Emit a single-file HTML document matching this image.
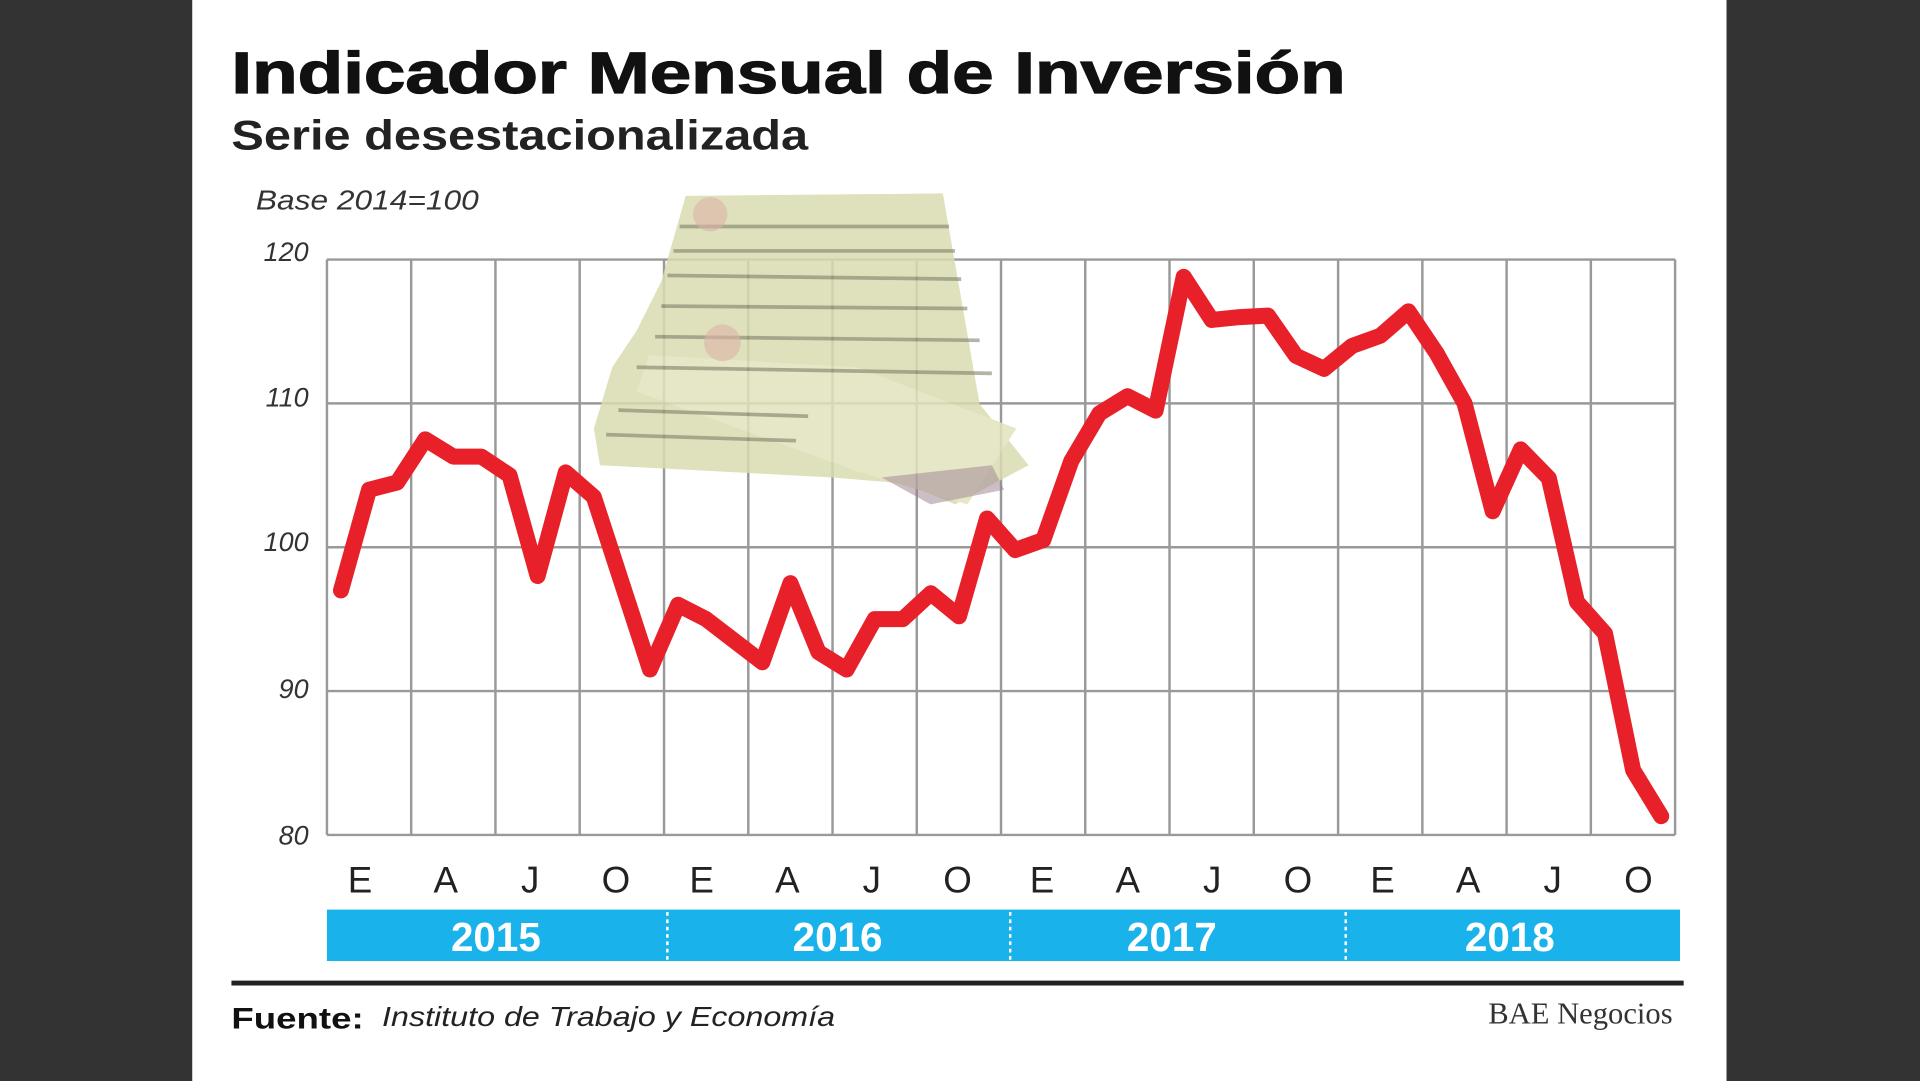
<!DOCTYPE html>
<html><head><meta charset="utf-8"><style>
html,body{margin:0;padding:0;background:#333;}
svg{display:block}
text{font-family:"Liberation Sans",sans-serif}
</style></head><body>
<svg width="1920" height="1081" viewBox="0 0 1568 883" preserveAspectRatio="none" xmlns="http://www.w3.org/2000/svg">
<rect x="0" y="0" width="1568" height="883" fill="#333333"/>
<rect x="157" y="0" width="1253" height="883" fill="#ffffff"/>
<text x="189" y="76" font-size="48" font-weight="bold" fill="#111" stroke="#111" stroke-width="1" textLength="910" lengthAdjust="spacingAndGlyphs">Indicador Mensual de Inversión</text>
<text x="189" y="122" font-size="34" font-weight="bold" fill="#222" textLength="471" lengthAdjust="spacingAndGlyphs">Serie desestacionalizada</text>
<text x="209" y="171" font-size="23" font-style="italic" fill="#333" textLength="182" lengthAdjust="spacingAndGlyphs">Base 2014=100</text>
<g font-size="22" font-style="italic" fill="#333" text-anchor="end">
<text x="252" y="213">120</text><text x="252" y="332">110</text><text x="252" y="450">100</text><text x="252" y="570">90</text><text x="252" y="690">80</text>
</g>
<g stroke="#999" stroke-width="2" fill="none">
<line x1="267" y1="212" x2="1368" y2="212"/><line x1="267" y1="329.5" x2="1368" y2="329.5"/><line x1="267" y1="447" x2="1368" y2="447"/><line x1="267" y1="564.5" x2="1368" y2="564.5"/><line x1="267" y1="682" x2="1368" y2="682"/>
<path d="M267 212V682M335.8 212V682M404.6 212V682M473.4 212V682M542.3 212V682M611.1 212V682M679.9 212V682M748.7 212V682M817.5 212V682M886.3 212V682M955.1 212V682M1023.9 212V682M1092.8 212V682M1161.6 212V682M1230.4 212V682M1299.2 212V682M1368 212V682"/>
</g>
<g opacity="0.85">
<polygon points="560,160 770,158 800,330 840,380 780,412 740,395 680,390 490,380 485,350 500,300 520,270 540,230" fill="#d9dcb0"/>
<polygon points="530,290 700,300 830,350 790,412 700,385 520,320" fill="#e2e3bd"/>
<g stroke="#6b6b50" stroke-width="3" opacity="0.6">
<line x1="555" y1="185" x2="775" y2="185"/><line x1="550" y1="205" x2="780" y2="205"/><line x1="545" y1="225" x2="785" y2="228"/><line x1="540" y1="250" x2="790" y2="252"/><line x1="535" y1="275" x2="800" y2="278"/><line x1="520" y1="300" x2="810" y2="305"/><line x1="505" y1="335" x2="660" y2="340"/><line x1="495" y1="355" x2="650" y2="360"/>
</g>
<circle cx="590" cy="280" r="15" fill="#d8a59a" opacity="0.6"/><circle cx="580" cy="175" r="14" fill="#d8a59a" opacity="0.6"/>
<polygon points="720,390 810,380 820,400 760,412" fill="#9a7f8a" opacity="0.6"/>
</g>
<polyline transform="translate(278.47,1622) scale(22.94,-11.75)" vector-effect="non-scaling-stroke" fill="none" stroke="#e8202a" stroke-width="16" stroke-linejoin="round" stroke-linecap="round"
points="0,97 1,104 2,104.5 3,107.5 4,106.3 5,106.3 6,105 7,98 8,105.2 9,103.5 10,97.5 11,91.5 12,96 13,95 14,93.5 15,92 16,97.5 17,92.7 18,91.5 19,95 20,95 21,96.8 22,95.2 23,102 24,99.8 25,100.5 26,106 27,109.3 28,110.5 29,109.5 30,118.8 31,115.8 32,116 33,116.1 34,113.3 35,112.4 36,114 37,114.7 38,116.4 39,113.5 40,110 41,102.5 42,106.8 43,104.8 44,96.2 45,94 46,84.5 47,81.3"/>
<g font-size="30" fill="#222" text-anchor="middle">
<text x="294" y="729">E</text><text x="364" y="729">A</text><text x="433" y="729">J</text><text x="503" y="729">O</text>
<text x="573" y="729">E</text><text x="643" y="729">A</text><text x="712" y="729">J</text><text x="782" y="729">O</text>
<text x="851" y="729">E</text><text x="921" y="729">A</text><text x="990" y="729">J</text><text x="1060" y="729">O</text>
<text x="1129" y="729">E</text><text x="1199" y="729">A</text><text x="1268" y="729">J</text><text x="1338" y="729">O</text>
</g>
<rect x="267" y="743" width="1105" height="42" fill="#19b2ea"/>
<g stroke="#fff" stroke-width="2" stroke-dasharray="3,3"><line x1="545" y1="745" x2="545" y2="784"/><line x1="825" y1="745" x2="825" y2="784"/><line x1="1099" y1="745" x2="1099" y2="784"/></g>
<g font-size="33" font-weight="bold" fill="#fff" text-anchor="middle">
<text x="405" y="777">2015</text><text x="684" y="777">2016</text><text x="957" y="777">2017</text><text x="1233" y="777">2018</text>
</g>
<rect x="189" y="801" width="1186" height="4" fill="#222"/>
<text x="189" y="840" font-size="24" font-weight="bold" fill="#111" textLength="108" lengthAdjust="spacingAndGlyphs">Fuente:</text>
<text x="312" y="838" font-size="23" font-style="italic" fill="#222" textLength="370" lengthAdjust="spacingAndGlyphs">Instituto de Trabajo y Economía</text>
<text x="1366" y="836" font-size="25" fill="#333" text-anchor="end" style="font-family:'Liberation Serif',serif">BAE Negocios</text>
</svg>
</body></html>
